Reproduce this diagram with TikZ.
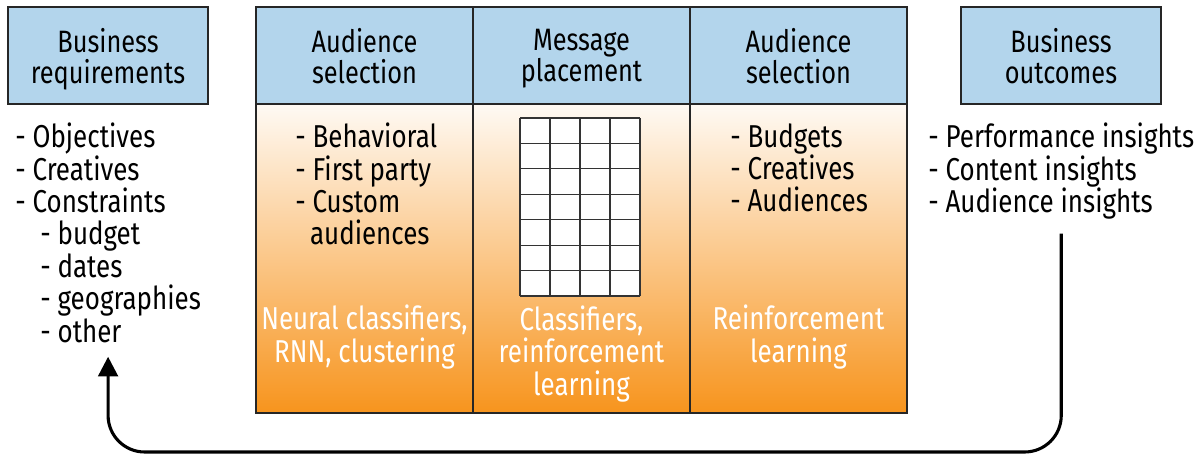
\documentclass[tikz,border=0pt]{standalone}
\usepackage{fontspec}
\setmainfont[FakeStretch=0.82]{Fira Sans}
\usetikzlibrary{arrows.meta}
\definecolor{headblue}{HTML}{B3D5EC}
\definecolor{adorange}{HTML}{F7941D}
\newcommand{\hl}{\vphantom{Bgqp}}
\tikzset{
  head/.style={draw=black!85, line width=1.3pt, fill=headblue},
  title/.style={align=center, font=\fontsize{22}{22.2}\selectfont},
  items/.style={align=left, anchor=north west, inner sep=0pt, font=\fontsize{22.5}{23}\selectfont},
  method/.style={align=center, text=white, font=\fontsize{22.5}{23.1}\selectfont},
  feedback/.style={line width=2.2pt, rounded corners=26pt, -{Triangle[width=14pt,length=14pt]}}
}
\begin{document}
\begin{tikzpicture}[x=0.025cm, y=-0.025cm]
            \useasboundingbox (0,0) rectangle (1199,457);
            % outer boxes
            \draw[head] (8,7) rectangle (208,104) node[midway, title, yshift=-2.5pt] (reqhead) {\hl Business\\\hl requirements};
            \draw[head] (961,7) rectangle (1161,104) node[midway, title, yshift=-2.5pt] (outhead) {\hl Business\\\hl outcomes};
            % the three stages
            \shade[top color=adorange!5, bottom color=adorange] (256,104) rectangle (907,413);
            \fill[headblue] (256,7) rectangle (907,104);
            \draw[line width=1.3pt, draw=black!85] (256,7) rectangle (907,413);
            \draw[line width=1.3pt, draw=black!85] (256,104) -- (907,104);
            \draw[line width=1.3pt, draw=black!85] (473,7) -- (473,413);
            \draw[line width=1.3pt, draw=black!85] (690,7) -- (690,413);
            \node[title] (selhead) at (364.5,59) {\hl Audience\\\hl selection};
            \node[title] (placehead) at (581.5,59) {\hl Message\\\hl placement};
            \node[title] (opthead) at (798.5,59) {\hl Audience\\\hl selection};
            % placement grid
            \fill[white] (520,118) rectangle (640,296);
            \foreach \x in {520,550,...,640}
              \draw[line width=0.8pt, black!80] (\x,118) -- (\x,296);
            \foreach \r in {0,...,7}
              \draw[line width=0.8pt, black!80] (520,118+\r*25.43) -- (640,118+\r*25.43);
            % lists
            \node[items] (reqlist) at (15,123) {- Objectives\\- Creatives\\- Constraints\\\hspace*{17.8pt}- budget\\\hspace*{17.8pt}- dates\\\hspace*{17.8pt}- geographies\\\hspace*{17.8pt}- other};
            \node[items] (sellist) at (295,123) {- Behavioral\\- First party\\- Custom\\\hspace*{10.5pt}audiences};
            \node[items] (optlist) at (730,123) {- Budgets\\- Creatives\\- Audiences};
            \node[items] (outlist) at (928,123) {- Performance insights\\- Content insights\\- Audience insights};
            % methods
            \node[method] (selmethod) at (364.5,337) {Neural classifiers,\\RNN, clustering};
            \node[method] (placemethod) at (581.5,354) {Classifiers,\\reinforcement\\learning};
            \node[method] (optmethod) at (798.5,337) {Reinforcement\\learning};
            % feedback loop
            \coordinate (loopbase) at (0,452);
            \draw[feedback, shorten <=10pt, shorten >=10pt] (outlist.south) |- (reqlist.south |- loopbase) -- (reqlist.south);
        \end{tikzpicture}
\end{document}
